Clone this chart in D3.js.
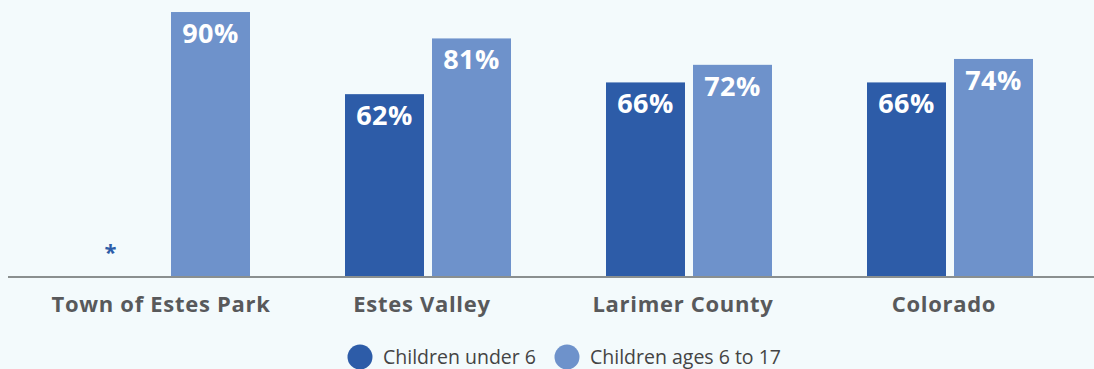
<!DOCTYPE html>
<html>
<head>
<meta charset="utf-8">
<script src="https://cdn.jsdelivr.net/npm/d3@7"></script>
<style>
  html, body { margin: 0; padding: 0; background: #f3fafc; }
  svg { display: block; }
</style>
</head>
<body>
<svg id="chart" width="1094" height="369"></svg>
<script>
// Share of children with all available parents in the labor force
const categories = ["Town of Estes Park", "Estes Valley", "Larimer County", "Colorado"];
const seriesNames = ["Children under 6", "Children ages 6 to 17"];
const under6 = [null, 62, 66, 66];      // null = estimate not available
const ages6to17 = [90, 81, 72, 74];
const seriesColors = ["#2d5ca8", "#6e92cb"];

const W = 1094, H = 369;
const baseY = 276;
const svg = d3.select("#chart");

svg.append("rect").attr("width", W).attr("height", H).attr("fill", "#f3fafc");

const x0 = d3.scaleBand()
  .domain(categories)
  .range([84, 1033])
  .paddingInner(95 / 261)
  .paddingOuter(0);

const x1 = d3.scaleBand()
  .domain(seriesNames)
  .range([0, x0.bandwidth()])
  .paddingInner(8 / 87)
  .paddingOuter(0);

const y = d3.scaleLinear().domain([0, 100]).range([baseY, baseY - 293.3]);

const rows = categories.map((c, i) => ({
  category: c,
  values: [
    { series: seriesNames[0], value: under6[i], color: seriesColors[0] },
    { series: seriesNames[1], value: ages6to17[i], color: seriesColors[1] }
  ]
}));

const groups = svg.append("g").selectAll("g")
  .data(rows)
  .join("g")
  .attr("transform", d => `translate(${x0(d.category)},0)`);

const cells = groups.selectAll("g.cell")
  .data(d => d.values)
  .join("g")
  .attr("class", "cell");

cells.filter(d => d.value != null)
  .append("rect")
  .attr("x", d => x1(d.series))
  .attr("y", d => y(d.value))
  .attr("width", x1.bandwidth())
  .attr("height", d => baseY - y(d.value))
  .attr("fill", d => d.color);

cells.filter(d => d.value != null)
  .append("text")
  .attr("x", d => x1(d.series) + x1.bandwidth() / 2)
  .attr("y", d => y(d.value) + 31)
  .attr("text-anchor", "middle")
  .attr("font-family", "'Open Sans', sans-serif")
  .attr("font-weight", 700)
  .attr("font-size", 27)
  .attr("letter-spacing", 0.5)
  .attr("fill", "#ffffff")
  .text(d => d.value + "%");

// Asterisk where no estimate is published
cells.filter(d => d.value == null)
  .append("text")
  .attr("x", d => x1(d.series) + x1.bandwidth() / 2 - 13)
  .attr("y", baseY - 16)
  .attr("text-anchor", "middle")
  .attr("font-family", "'Open Sans', sans-serif")
  .attr("font-weight", 700)
  .attr("font-size", 22)
  .attr("fill", seriesColors[0])
  .text("*");

// Baseline
svg.append("line")
  .attr("x1", 8).attr("x2", W)
  .attr("y1", baseY + 1).attr("y2", baseY + 1)
  .attr("stroke", "#8a8f8f")
  .attr("stroke-width", 2);

// Category axis
const xAxis = d3.axisBottom(x0).tickSize(0).tickPadding(0);
const axisG = svg.append("g")
  .attr("transform", `translate(-6,${baseY})`)
  .call(xAxis);
axisG.select(".domain").remove();
axisG.selectAll("text")
  .attr("y", 36)
  .attr("dy", 0)
  .attr("font-family", "'Open Sans', sans-serif")
  .attr("font-weight", 700)
  .attr("font-size", 22)
  .attr("letter-spacing", 0.7)
  .attr("fill", "#58595b");

// Legend
const legend = svg.append("g").attr("transform", "translate(360,357)");
const legendX = [0, 207];
const items = legend.selectAll("g")
  .data(seriesNames)
  .join("g")
  .attr("transform", (d, i) => `translate(${legendX[i]},0)`);
items.append("circle")
  .attr("r", 12.5)
  .attr("fill", (d, i) => seriesColors[i]);
items.append("text")
  .attr("x", 23)
  .attr("y", 7)
  .attr("font-family", "'Open Sans', sans-serif")
  .attr("font-size", 19.5)
  .attr("fill", "#444444")
  .text(d => d);
</script>
</body>
</html>
